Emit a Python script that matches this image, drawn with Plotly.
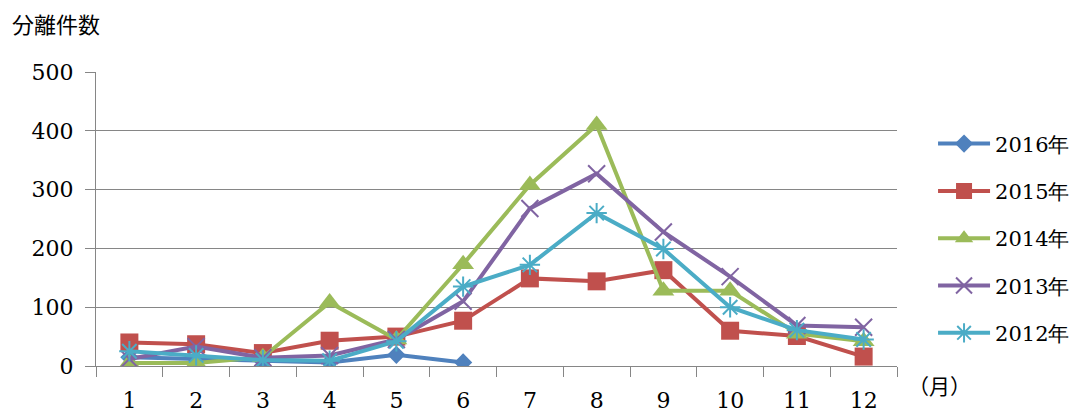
import plotly.graph_objects as go

months = ["1", "2", "3", "4", "5", "6", "7", "8", "9", "10", "11", "12"]
series_names = ["2016年", "2015年", "2014年", "2013年", "2012年"]
v2016 = [15, 12, 8, 6, 19, 6]
v2015 = [40, 37, 22, 43, 50, 77, 149, 144, 163, 60, 51, 16]
v2014 = [5, 5, 15, 108, 45, 173, 308, 410, 128, 128, 55, 42]
v2013 = [12, 33, 14, 18, 45, 110, 268, 327, 228, 152, 69, 66]
v2012 = [25, 18, 10, 9, 42, 135, 172, 260, 199, 100, 61, 45]
y_ticks = [0, 100, 200, 300, 400, 500]

values = [v2016, v2015, v2014, v2013, v2012]
colors = ["#4F81BD", "#C0504D", "#9BBB59", "#8064A2", "#4BACC6"]
symbols = ["diamond", "square", "triangle-up", "x-thin-open", "asterisk-open"]
sizes = [14, 18, 19, 17, 17]

FONT = "DejaVu Serif, serif"

fig = go.Figure()
for i, (name, vals) in enumerate(zip(series_names, values)):
    marker = dict(symbol=symbols[i], size=sizes[i], color=colors[i])
    if "open" in symbols[i]:
        marker["line"] = dict(color=colors[i], width=2)
    fig.add_trace(go.Scatter(
        x=months[:len(vals)], y=vals, name=name, mode="lines+markers",
        line=dict(color=colors[i], width=4), marker=marker,
        legendgroup=name,
    ))

fig.update_layout(
    width=1089, height=414,
    margin=dict(l=96, r=192, t=72, b=48),
    paper_bgcolor="white", plot_bgcolor="white",
    font=dict(family=FONT, size=22, color="#000"),
    showlegend=True,
    legend=dict(x=1.045, y=0.825, xanchor="left", yanchor="top",
                font=dict(family=FONT, size=21), tracegroupgap=17, itemwidth=52,
                bgcolor="rgba(0,0,0,0)"),
    xaxis=dict(type="category", categoryorder="array", categoryarray=months,
               range=[-0.5, 11.5], tickson="boundaries", ticks="outside",
               ticklen=10, tickcolor="#868686", showline=True, linecolor="#868686",
               linewidth=1, showgrid=False, tickfont=dict(family=FONT, size=22),
               ticklabelstandoff=15, automargin=False),
    yaxis=dict(range=[0, 500], tickvals=y_ticks, ticks="outside", ticklen=10,
               tickcolor="#868686", showline=True, linecolor="#868686",
               gridcolor="#868686", gridwidth=1, zeroline=False,
               tickfont=dict(family=FONT, size=22), ticklabelstandoff=7,
               automargin=False),
    annotations=[
        dict(text="分離件数", xref="paper", yref="paper", x=-96/801, y=1+72/294,
             xanchor="left", yanchor="middle", yshift=-23, xshift=10, showarrow=False,
             font=dict(family="Noto Sans CJK JP", size=22)),
        dict(text="（月）", xref="paper", yref="paper", x=(906-96)/801, y=0, yshift=-19,
             xanchor="left", yanchor="middle", showarrow=False,
             font=dict(family="Noto Sans CJK JP", size=21)),
    ],
)

fig.write_html("out.html")
